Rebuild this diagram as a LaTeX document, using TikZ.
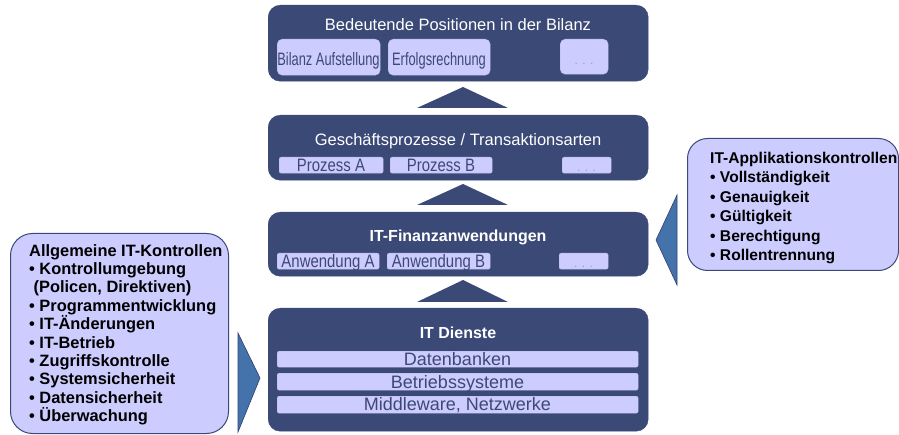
\documentclass[tikz,border=0pt]{standalone}
\usepackage{fontspec}
\setmainfont{Liberation Sans}
\newfontfamily\condA[FakeStretch=0.715]{Liberation Sans}
\newfontfamily\condB[FakeStretch=0.83]{Liberation Sans}
\definecolor{navy}{HTML}{3B4976}
\definecolor{lav}{HTML}{CCCCFF}
\definecolor{itemtext}{HTML}{3C4878}
\definecolor{dots}{HTML}{9A9ACC}
\definecolor{steel}{HTML}{4373AA}
\definecolor{steeledge}{HTML}{2F3F6F}
\begin{document}
\begin{tikzpicture}[x=1pt,y=-1pt,
  layer/.style={fill=navy, draw=navy, rounded corners=12pt, inner sep=0pt, anchor=north west},
  itembox/.style={fill=lav, draw=lav!85!navy, line width=0.4pt, inner sep=0pt, anchor=north west},
  sidebox/.style={fill=lav, draw=navy, line width=1pt, inner sep=0pt, anchor=north west},
  ttl/.style={text=white, inner sep=0pt, anchor=base, font=\fontsize{16.5}{19}\selectfont},
  ttlb/.style={text=white, inner sep=0pt, anchor=base, font=\fontsize{16}{19}\selectfont\bfseries},
  itemtxt/.style={text=itemtext, inner sep=0pt, anchor=base},
  dotstxt/.style={text=dots, inner sep=0pt, anchor=base, font=\fontsize{12}{13}\selectfont},
  uptri/.style={fill=navy},
  pointer/.style={fill=steel, draw=steeledge, line width=0.6pt, line join=miter}
]
\useasboundingbox (0,0) rectangle (899,435);

% ---- layer 1: balance sheet positions
\node[layer, minimum width=380pt, minimum height=76pt] (bil) at (268,5) {};
\node[ttl] (bilT) at (458,31) {Bedeutende Positionen in der Bilanz};
\node[itembox, rounded corners=5pt, minimum width=103pt, minimum height=36pt] (bilA) at (277,39) {};
\node[itembox, rounded corners=5pt, minimum width=102pt, minimum height=36pt] (bilB) at (388,39) {};
\node[itembox, rounded corners=5pt, minimum width=48pt, minimum height=35pt] (bilC) at (560,39) {};
\node[itemtxt, font=\condA\fontsize{18}{20}\selectfont] (bilAt) at (328.5,66) {Bilanz Aufstellung};
\node[itemtxt, font=\condA\fontsize{18}{20}\selectfont] (bilBt) at (439,66) {Erfolgsrechnung};
\node[dotstxt] (bilCt) at (584,65) {. . .};

% ---- layer 2: business processes
\node[layer, minimum width=380pt, minimum height=65pt] (proc) at (268,115) {};
\node[ttl] (procT) at (458,146) {Geschäftsprozesse / Transaktionsarten};
\node[itembox, rounded corners=2pt, minimum width=104pt, minimum height=16pt] (procA) at (279,157) {};
\node[itembox, rounded corners=2pt, minimum width=102pt, minimum height=16pt] (procB) at (390,157) {};
\node[itembox, rounded corners=2pt, minimum width=49pt, minimum height=16pt] (procC) at (562,157) {};
\node[itemtxt, font=\condB\fontsize{18}{20}\selectfont] (procAt) at (331,172) {Prozess A};
\node[itemtxt, font=\condB\fontsize{18}{20}\selectfont] (procBt) at (441,172) {Prozess B};
\node[dotstxt] (procCt) at (586.5,172) {. . .};

% ---- layer 3: financial applications
\node[layer, minimum width=380pt, minimum height=64pt] (app) at (268,212) {};
\node[ttlb] (appT) at (458,241.5) {IT-Finanzanwendungen};
\node[itembox, rounded corners=2pt, minimum width=102pt, minimum height=16pt] (appA) at (277,253) {};
\node[itembox, rounded corners=2pt, minimum width=103pt, minimum height=16pt] (appB) at (387,253) {};
\node[itembox, rounded corners=2pt, minimum width=49pt, minimum height=16pt] (appC) at (559,253) {};
\node[itemtxt, font=\condB\fontsize{18}{20}\selectfont] (appAt) at (328,268) {Anwendung A};
\node[itemtxt, font=\condB\fontsize{18}{20}\selectfont] (appBt) at (438.5,268) {Anwendung B};
\node[dotstxt] (appCt) at (583.5,268) {. . .};

% ---- layer 4: IT services
\node[layer, minimum width=380pt, minimum height=123pt] (svc) at (268,308) {};
\node[ttlb] (svcT) at (458,338.3) {IT Dienste};
\node[itembox, rounded corners=2pt, minimum width=361pt, minimum height=16pt] (db) at (277,351) {};
\node[itembox, rounded corners=2pt, minimum width=361pt, minimum height=17pt] (os) at (277,373) {};
\node[itembox, rounded corners=2pt, minimum width=361pt, minimum height=17pt] (mw) at (277,396) {};
\node[itemtxt, font=\fontsize{18}{20}\selectfont] (dbt) at (457.5,365.5) {Datenbanken};
\node[itemtxt, font=\fontsize{18}{20}\selectfont] (ost) at (457.5,388) {Betriebssysteme};
\node[itemtxt, font=\fontsize{18}{20}\selectfont] (mwt) at (457.5,410.5) {Middleware, Netzwerke};

% ---- upward arrows between the layers
\fill[uptri] (417,108) -- (463,87) -- (508,108) -- cycle;
\fill[uptri] (417,205) -- (463,184) -- (508,205) -- cycle;
\fill[uptri] (417,302) -- (463,280) -- (508,302) -- cycle;

% ---- general IT controls
\node[sidebox, rounded corners=22pt, minimum width=218pt, minimum height=200pt] (gen) at (10,233) {};
\node[inner sep=0pt, anchor=north west, align=left, font=\fontsize{16.4}{18.4}\selectfont\bfseries] (genT) at (29,244)
  {Allgemeine IT-Kontrollen\\
   • Kontrollumgebung\\
   \hspace*{4.5pt}(Policen, Direktiven)\\
   • Programmentwicklung\\
   • IT-Änderungen\\
   • IT-Betrieb\\
   • Zugriffskontrolle\\
   • Systemsicherheit\\
   • Datensicherheit\\
   • Überwachung};
\path[pointer] (238,333) -- (260,378) -- (238,432) -- cycle;

% ---- application controls
\node[sidebox, rounded corners=20pt, minimum width=211pt, minimum height=132pt] (appc) at (687,138) {};
\node[inner sep=0pt, anchor=north west, align=left, font=\fontsize{15.6}{19.4}\selectfont\bfseries] (appcT) at (710,152)
  {IT-Applikationskontrollen\\
   • Vollständigkeit\\
   • Genauigkeit\\
   • Gültigkeit\\
   • Berechtigung\\
   • Rollentrennung};
\path[pointer] (677,195) -- (656,240) -- (677,285) -- cycle;
\end{tikzpicture}
\end{document}
